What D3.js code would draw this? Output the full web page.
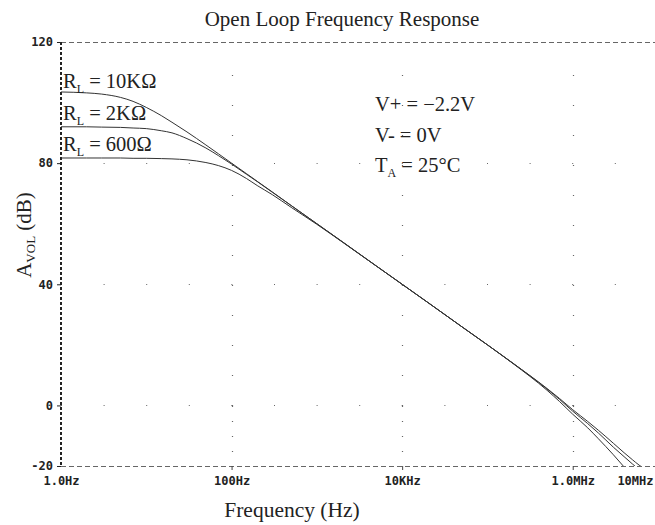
<!DOCTYPE html>
<html>
<head>
<meta charset="utf-8">
<script src="https://cdn.jsdelivr.net/npm/d3@7"></script>
<style>
  body { margin: 0; background: #fff; }
  svg { display: block; }
  .tick text { font-family: "DejaVu Sans Mono", monospace; font-weight: bold; font-size: 12px; fill: #222; }
  .serif { font-family: "Liberation Serif", "Times New Roman", serif; fill: #222; }
</style>
</head>
<body>
<div id="chart"></div>
<script>
var freqHz = [1, 2, 3, 5, 7, 10, 15, 20, 30, 50, 70, 100, 150, 200, 300, 500,
  1e3, 2e3, 5e3, 1e4, 2e4, 5e4, 1e5, 2e5, 5e5, 7e5, 1e6, 1.5e6, 2e6, 3e6, 4e6, 5e6, 6e6, 7e6];

// open loop gain (dB) for each load
var gain10k = [103.5, 103.2, 102.8, 101.7, 100.4, 98.4, 95.7, 93.5, 90.3, 86.0, 83.1, 80.0, 76.5, 74.0, 70.5, 66.0,
  60.0, 54.0, 46.0, 40.0, 34.0, 26.0, 20.0, 13.9, 5.6, 2.3, -1.4, -5.3, -8.2, -12.5, -15.6, -17.9, -19.7, -21.0];
var gain2k = [92.0, 92.0, 91.9, 91.8, 91.6, 91.4, 90.7, 90.0, 88.1, 85.0, 82.5, 79.7, 76.3, 73.9, 70.4, 66.0,
  60.0, 54.0, 46.0, 40.0, 34.0, 26.0, 20.0, 13.9, 5.4, 2.0, -1.9, -6.0, -9.1, -13.8, -16.9, -19.3, -21.2, -23.0];
var gain600 = [81.7, 81.7, 81.7, 81.7, 81.6, 81.6, 81.5, 81.4, 81.1, 80.2, 79.2, 77.6, 74.9, 72.6, 69.6, 65.4,
  59.8, 53.9, 46.0, 40.0, 34.0, 26.0, 20.0, 13.8, 5.0, 1.3, -2.9, -7.4, -11.0, -16.3, -20.3, -23.5, -26.5, -29.0];

var yTicks = [120, 80, 40, 0, -20];
var xTicks = [1, 100, 1e4, 1e6, 1e7];
var xTickLabels = ["1.0Hz", "100Hz", "10KHz", "1.0MHz", "10MHz"];

var W = 655, H = 525;
var plotL = 61, plotT = 42, plotR = 658, plotB = 466;

var svg = d3.select("#chart").append("svg").attr("width", W).attr("height", H);

var x = d3.scaleLog().domain([1, 1e7]).range([plotL, plotR]);
var y = d3.scaleLinear().domain([-20, 120]).range([plotB, plotT]);

// dotted grid
var grid = svg.append("g").attr("stroke", "#666").attr("stroke-width", 1.2);
[100, 1e4, 1e6].forEach(function(f){
  var gx = Math.round(x(f)) + 0.5;
  grid.append("line").attr("x1", gx).attr("x2", gx)
    .attr("y1", y(0) + 0.5).attr("y2", plotT + 10)
    .attr("stroke-dasharray", "1,29");
  grid.append("line").attr("x1", gx).attr("x2", gx)
    .attr("y1", y(0) + 0.5).attr("y2", plotB - 4)
    .attr("stroke-dasharray", "1,14");
});
[80, 40, 0].forEach(function(v){
  var gy = Math.round(y(v)) + 0.5;
  grid.append("line").attr("x1", plotL).attr("x2", plotR)
    .attr("y1", gy).attr("y2", gy)
    .attr("stroke-dasharray", "1,41.6");
});

// top and bottom dashed frame
svg.append("line").attr("x1", plotL).attr("x2", plotR)
  .attr("y1", plotT + 0.5).attr("y2", plotT + 0.5)
  .attr("stroke", "#666").attr("stroke-dasharray", "5,3");
svg.append("line").attr("x1", plotL).attr("x2", plotR)
  .attr("y1", plotB + 0.5).attr("y2", plotB + 0.5)
  .attr("stroke", "#666").attr("stroke-dasharray", "5,3");

// left axis
var yAxis = svg.append("g").attr("transform", "translate(" + plotL + ",0)")
  .call(d3.axisLeft(y).tickValues(yTicks).tickSize(4).tickFormat(function(d){ return String(d).replace("\u2212", "-"); }));
yAxis.select(".domain").remove();
yAxis.selectAll(".tick line").attr("stroke", "#222");
yAxis.selectAll(".tick text").attr("x", -8);
yAxis.append("line").attr("x1", 0).attr("x2", 0).attr("y1", plotT).attr("y2", plotB)
  .attr("stroke", "#222").attr("stroke-width", 2).attr("stroke-dasharray", "3,2");

// bottom axis
var xAxis = svg.append("g").attr("transform", "translate(0," + plotB + ")")
  .call(d3.axisBottom(x).tickValues(xTicks).tickSize(4).tickFormat(function(d, i){ return xTickLabels[i]; }));
xAxis.select(".domain").remove();
xAxis.selectAll(".tick line").attr("stroke", "#444");
xAxis.selectAll(".tick text").attr("y", 10);
xAxis.selectAll(".tick").filter(function(d){ return d === 1 || d === 1e7; }).select("line").remove();
xAxis.selectAll(".tick").filter(function(d){ return d === 1e7; }).select("text")
  .attr("text-anchor", "end").attr("dx", -5);

// curves
svg.append("clipPath").attr("id", "plotclip").append("rect")
  .attr("x", plotL).attr("y", plotT).attr("width", plotR - plotL).attr("height", bottomPad());
function bottomPad(){ return plotB - plotT; }

var line = d3.line()
  .x(function(d){ return x(d[0]); })
  .y(function(d){ return y(d[1]); })
  .curve(d3.curveMonotoneX);

var plot = svg.append("g").attr("clip-path", "url(#plotclip)");
[gain10k, gain2k, gain600].forEach(function(s){
  plot.append("path")
    .datum(d3.zip(freqHz, s))
    .attr("fill", "none")
    .attr("stroke", "#333")
    .attr("stroke-width", 1)
    .attr("d", line);
});

// title and axis labels
svg.append("text").attr("class", "serif").attr("x", 342).attr("y", 26)
  .attr("text-anchor", "middle").attr("font-size", 21).text("Open Loop Frequency Response");
svg.append("text").attr("class", "serif").attr("x", 292).attr("y", 517)
  .attr("text-anchor", "middle").attr("font-size", 21.5).text("Frequency (Hz)");

var yl = svg.append("text").attr("class", "serif").attr("font-size", 21)
  .attr("text-anchor", "middle").attr("transform", "translate(31,235) rotate(-90)");
yl.append("tspan").text("A");
yl.append("tspan").attr("font-size", 13).attr("dy", 4).text("VOL");
yl.append("tspan").attr("dy", -4).text(" (dB)");

// labels with subscript
function subLabel(px, py, main, sub, rest){
  var t = svg.append("text").attr("class", "serif").attr("font-size", 20.5).attr("x", px).attr("y", py);
  t.append("tspan").text(main);
  t.append("tspan").attr("font-size", 12).attr("dy", 5).text(sub);
  t.append("tspan").attr("dy", -5).text(rest);
}
subLabel(63, 88, "R", "L", " = 10K\u03A9");
subLabel(63, 120, "R", "L", " = 2K\u03A9");
subLabel(63, 151, "R", "L", " = 600\u03A9");

svg.append("text").attr("class", "serif").attr("font-size", 20.5).attr("x", 375).attr("y", 111).text("V+ = \u22122.2V");
svg.append("text").attr("class", "serif").attr("font-size", 20.5).attr("x", 375).attr("y", 142).text("V- = 0V");
subLabel(375, 172, "T", "A", " = 25\u00B0C");
</script>
</body>
</html>
